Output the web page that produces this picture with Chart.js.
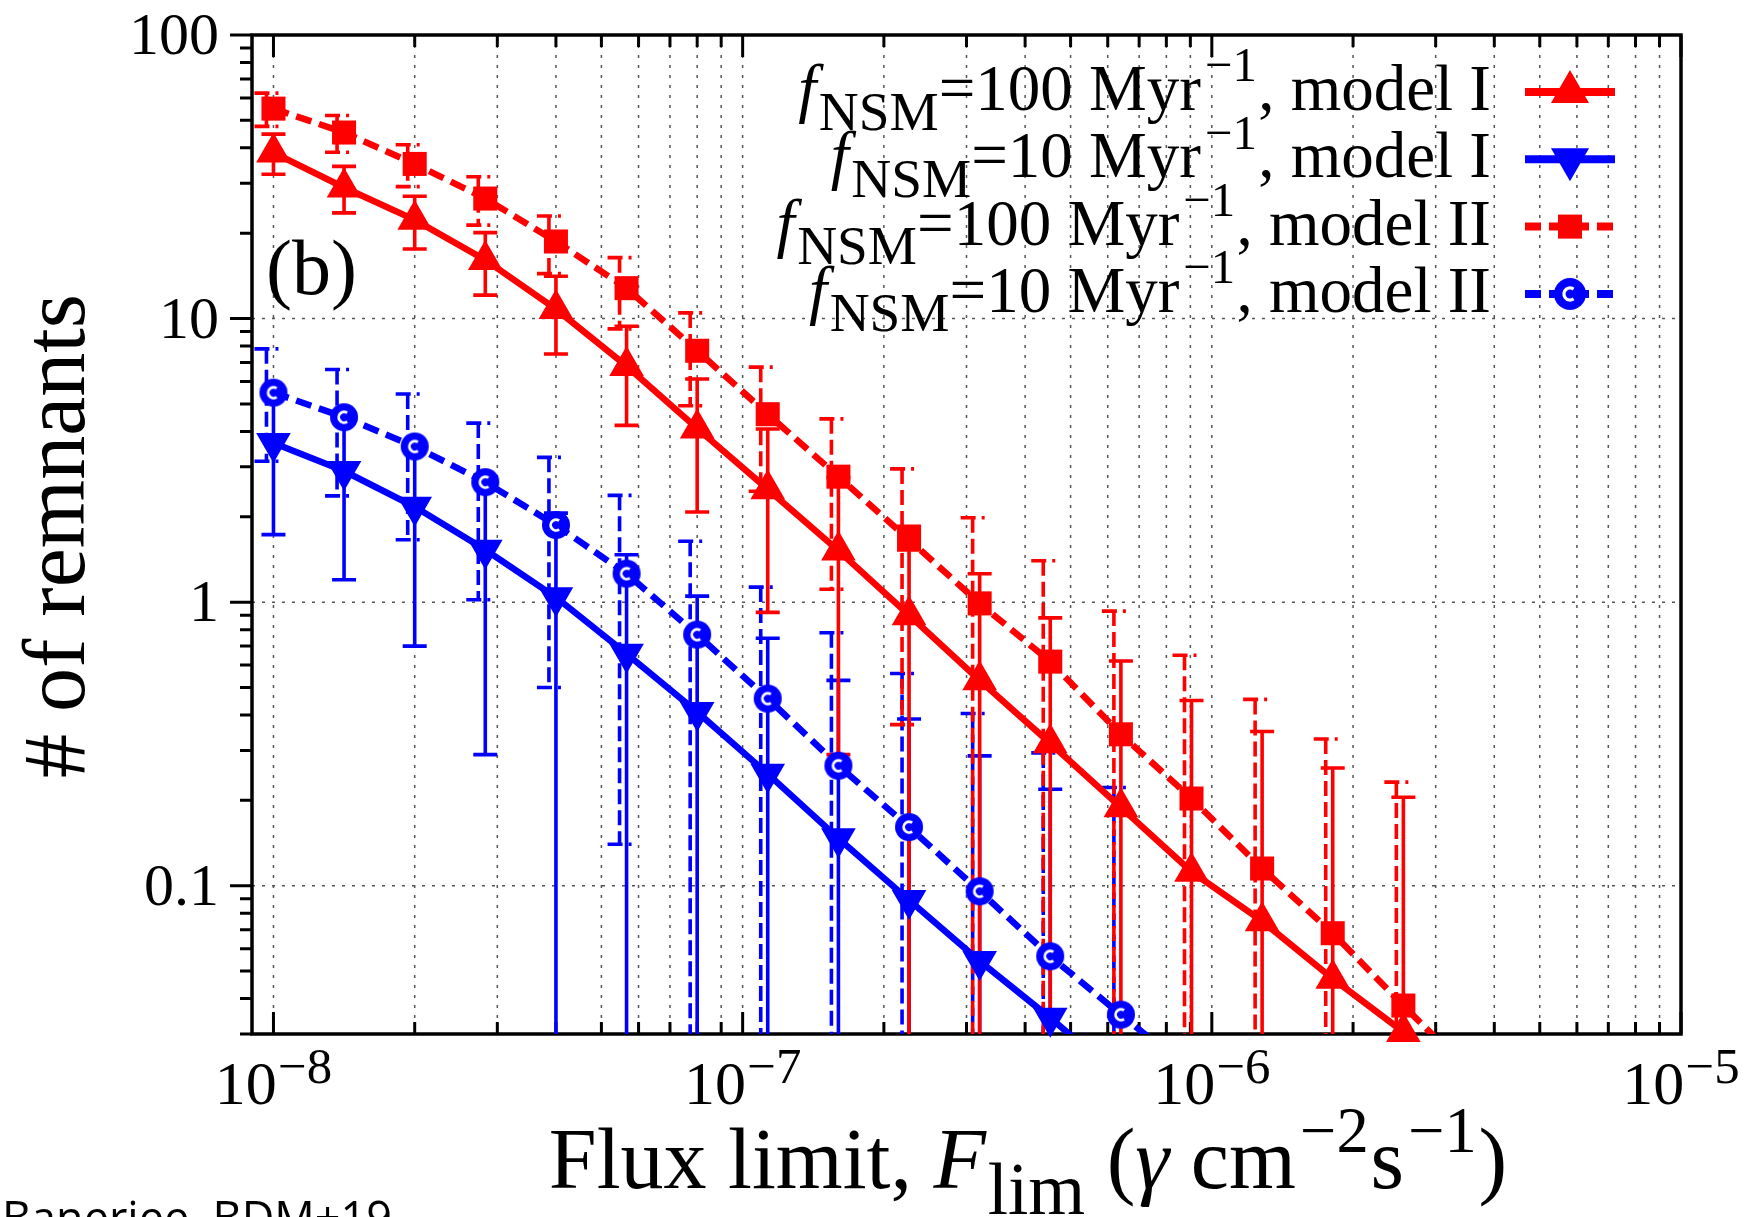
<!DOCTYPE html>
<html>
<head>
<meta charset="utf-8">
<script src="https://cdn.jsdelivr.net/npm/chart.js@4.4.1/dist/chart.umd.min.js"></script>
<style>
  body { margin: 0; background: #fff; }
  canvas { display: block; }
</style>
</head>
<body>
<canvas id="myChart" width="1758" height="1217"></canvas>
<script>
// Flux limits (gamma cm^-2 s^-1), one step = factor sqrt(2)
let fluxLimits = [1e-8, 1.414e-8, 2e-8, 2.828e-8, 4e-8, 5.657e-8, 8e-8, 1.131e-7, 1.6e-7,
  2.263e-7, 3.2e-7, 4.525e-7, 6.4e-7, 9.051e-7, 1.28e-6, 1.81e-6, 2.56e-6, 3.62e-6];

// f_NSM = 100 /Myr, model I (red, triangles)
let red1 = [38.5, 29, 22.3, 16.1, 10.8, 6.8, 4.1, 2.5, 1.52, 0.9, 0.53, 0.318, 0.189, 0.112, 0.075, 0.047, 0.0305];
let red1Lo = [32.3, 23.6, 17.6, 12.1, 7.5, 4.2, 2.08, 0.92, 0.29, 0, 0, 0, 0, 0, 0, 0, 0];
let red1Hi = [44.7, 34.4, 27.0, 20.1, 14.1, 9.4, 6.12, 4.08, 2.75, 1.85, 1.26, 0.88, 0.62, 0.45, 0.35, 0.26, 0.205];

// f_NSM = 10 /Myr, model I (blue, down triangles)
let blue1 = [3.64, 2.9, 2.17, 1.53, 1.04, 0.658, 0.41, 0.248, 0.147, 0.089, 0.0543, 0.0342, 0.021];
let blue1Lo = [1.73, 1.2, 0.70, 0.29, 0, 0, 0, 0, 0, 0, 0, 0, null];
let blue1Hi = [5.55, 4.6, 3.64, 2.77, 2.06, 1.47, 1.05, 0.746, 0.53, 0.387, 0.287, 0.219, null];

// f_NSM = 100 /Myr, model II (red dashed, squares)
let red2 = [55, 45.3, 35.1, 26.5, 18.7, 12.8, 7.7, 4.6, 2.77, 1.66, 0.99, 0.617, 0.342, 0.203, 0.115, 0.068, 0.0378, 0.0213];
let red2Lo = [47.6, 38.6, 29.2, 21.35, 14.4, 9.2, 4.93, 2.46, 1.11, 0.37, 0, 0, 0, 0, 0, 0, 0, null];
let red2Hi = [62.4, 52.0, 41.0, 31.65, 23.0, 16.4, 10.47, 6.74, 4.43, 2.95, 1.985, 1.40, 0.93, 0.65, 0.454, 0.329, 0.232, null];

// f_NSM = 10 /Myr, model II (blue dashed, circles)
let blue2 = [5.48, 4.49, 3.54, 2.65, 1.87, 1.26, 0.768, 0.457, 0.265, 0.161, 0.0956, 0.0564, 0.0351, 0.022];
let blue2Lo = [3.14, 2.37, 1.66, 1.02, 0.5, 0.14, 0, 0, 0, 0, 0, 0, 0, null];
let blue2Hi = [7.82, 6.61, 5.42, 4.28, 3.24, 2.38, 1.64, 1.13, 0.78, 0.56, 0.405, 0.294, 0.222, null];

// axes
let xMin = 9.48e-9, xMax = 1e-5, yMin = 0.03, yMax = 100;
let xDecades = [-8, -7, -6, -5];
let yTickValues = [0.1, 1, 10, 100];
let yTickLabels = ["0.1", "1", "10", "100"];

const RED = "#ff0000", BLUE = "#0000ff";
const SERIF = '"Liberation Serif", "Times New Roman", serif';
const DASH_LINE = [16, 8];
const DASH_BAR = [15, 6];

//circle with a white "c" inside, like the gnuplot marker
function ringDot(r) {
  let c = document.createElement("canvas");
  c.width = c.height = 2 * r + 2;
  let g = c.getContext("2d");
  g.fillStyle = BLUE;
  g.beginPath();
  g.arc(r + 1, r + 1, r, 0, 2 * Math.PI);
  g.fill();
  g.strokeStyle = "#fff";
  g.lineWidth = r * 0.2;
  g.beginPath();
  g.arc(r + 1, r + 1, r * 0.38, 0.3 * Math.PI, 1.7 * Math.PI);
  g.stroke();
  return c;
}
let dotPlot = ringDot(14), dotLegend = ringDot(16);

function points(vals) {
  return vals.map((v, i) => ({ x: fluxLimits[i], y: v }));
}
function lineSet(vals, color, dash) {
  return {
    data: points(vals), borderColor: color, borderWidth: 6.5, borderDash: dash,
    pointRadius: 0, fill: false, tension: 0, clip: 0,
  };
}
function markSet(vals, color, style, r, rot) {
  return {
    data: points(vals), showLine: false, pointStyle: style, pointRadius: r,
    pointRotation: rot, pointBackgroundColor: color, pointBorderWidth: 0,
    pointHoverRadius: r, clip: false,
  };
}

let errorSeries = [
  { vals: blue1, lo: blue1Lo, hi: blue1Hi, color: BLUE, dash: [], shift: 0 },
  { vals: blue2, lo: blue2Lo, hi: blue2Hi, color: BLUE, dash: DASH_BAR, shift: -7 },
  { vals: red1, lo: red1Lo, hi: red1Hi, color: RED, dash: [], shift: 0 },
  { vals: red2, lo: red2Lo, hi: red2Hi, color: RED, dash: DASH_BAR, shift: -7 },
];

//text with sub/superscripts: runs of [text, italic, scale, shift in em, gap before in em]
function drawRuns(ctx, runs, x, y, align, size) {
  let font = (r) => (r[1] ? "italic " : "") + (size * (r[2] || 1)).toFixed(1) + "px " + SERIF;
  let w = 0;
  for (let r of runs) { ctx.font = font(r); w += ctx.measureText(r[0]).width + (r[4] || 0) * size; }
  let cx = align == "right" ? x - w : align == "center" ? x - w / 2 : x;
  ctx.textAlign = "left";
  ctx.textBaseline = "alphabetic";
  for (let r of runs) {
    ctx.font = font(r);
    cx += (r[4] || 0) * size;
    ctx.fillText(r[0], cx, y + (r[3] || 0) * size);
    cx += ctx.measureText(r[0]).width;
  }
}

//grid, frame and ticks, drawn under the data
const frame = {
  id: "frame",
  beforeDatasetsDraw(chart) {
    let { ctx, chartArea: a, scales: { x, y } } = chart;
    let xt = [], yt = [];
    for (let e = -9; e <= -5; e++)
      for (let m = 1; m <= 9; m++) {
        let v = m * Math.pow(10, e);
        if (v >= xMin * 0.999 && v <= xMax * 1.001) xt.push({ v: v, major: m == 1 });
      }
    for (let e = -2; e <= 2; e++)
      for (let m = 1; m <= 9; m++) {
        let v = m * Math.pow(10, e);
        if (v >= yMin * 0.999 && v <= yMax * 1.001) yt.push({ v: v, major: m == 1 });
      }
    ctx.save();
    //dotted grid
    ctx.strokeStyle = "#555";
    ctx.lineWidth = 1.5;
    ctx.setLineDash([3, 7]);
    ctx.beginPath();
    for (let t of xt) {
      let px = x.getPixelForValue(t.v);
      ctx.moveTo(px, a.top);
      ctx.lineTo(px, a.bottom);
    }
    for (let t of yt) {
      if (!t.major) continue;
      let py = y.getPixelForValue(t.v);
      ctx.moveTo(a.left, py);
      ctx.lineTo(a.right, py);
    }
    ctx.stroke();
    //ticks
    ctx.setLineDash([]);
    ctx.strokeStyle = "#000";
    ctx.lineWidth = 3;
    ctx.beginPath();
    for (let t of xt) {
      let px = x.getPixelForValue(t.v), len = t.major ? 22 : 12;
      ctx.moveTo(px, a.bottom);
      ctx.lineTo(px, a.bottom - len);
      ctx.moveTo(px, a.top);
      ctx.lineTo(px, a.top + len);
    }
    for (let t of yt) {
      let py = y.getPixelForValue(t.v), len = t.major ? 22 : 12;
      ctx.moveTo(a.left, py);
      ctx.lineTo(a.left - len, py);
    }
    ctx.stroke();
    ctx.lineWidth = 3.5;
    ctx.strokeRect(a.left, a.top, a.right - a.left, a.bottom - a.top);
    ctx.restore();
  },
};

//Poisson-like error bars
const errorBars = {
  id: "errorBars",
  beforeDatasetsDraw(chart) {
    let { ctx, chartArea: a, scales: { x, y } } = chart;
    ctx.save();
    ctx.beginPath();
    ctx.rect(a.left, a.top, a.right - a.left, a.bottom - a.top);
    ctx.clip();
    ctx.lineWidth = 3.6;
    for (let s of errorSeries) {
      ctx.strokeStyle = s.color;
      ctx.setLineDash(s.dash);
      s.vals.forEach((v, i) => {
        if (v < yMin || s.hi[i] == null) return;
        let px = x.getPixelForValue(fluxLimits[i]) + s.shift;
        let top = y.getPixelForValue(s.hi[i]);
        let hasLo = s.lo[i] > yMin;
        let bot = hasLo ? y.getPixelForValue(s.lo[i]) : a.bottom + 4;
        ctx.beginPath();
        ctx.moveTo(px, top);
        ctx.lineTo(px, bot);
        ctx.moveTo(px - 12, top);
        ctx.lineTo(px + 12, top);
        if (hasLo) {
          ctx.moveTo(px - 12, bot);
          ctx.lineTo(px + 12, bot);
        }
        ctx.stroke();
      });
    }
    ctx.restore();
  },
};

//tick labels, axis titles, legend
const labelsPlugin = {
  id: "labelsPlugin",
  afterDraw(chart) {
    let { ctx, chartArea: a, scales: { x, y } } = chart;
    ctx.save();
    ctx.fillStyle = "#000";
    for (let e of xDecades) {
      let px = x.getPixelForValue(Math.pow(10, e));
      drawRuns(ctx, [["10", false, 1, 0], ["\u2212" + (-e), false, 0.82, -0.34, 0.02]], px, 1104, "center", 62);
    }
    ctx.font = "60px " + SERIF;
    ctx.textAlign = "right";
    ctx.textBaseline = "alphabetic";
    yTickValues.forEach((v, i) => {
      ctx.fillText(yTickLabels[i], 219, y.getPixelForValue(v) + 19);
    });
    //x title
    drawRuns(ctx, [
      ["Flux limit, ", false, 1, 0], ["F", true, 1, 0], ["lim", false, 0.85, 0.3, 0.02],
      [" (", false, 1, 0], ["\u03b3", true, 1, 0], [" cm", false, 1, 0],
      ["\u22122", false, 0.75, -0.42, 0.05], ["s", false, 1, 0, 0.02], ["\u22121", false, 0.75, -0.42, 0.05],
      [")", false, 1, 0, 0.02],
    ], 1028, 1188, "center", 86);
    //y title
    ctx.save();
    ctx.translate(84, 536);
    ctx.rotate(-Math.PI / 2);
    ctx.font = "88px " + SERIF;
    ctx.textAlign = "center";
    ctx.fillText("# of remnants", 0, 0);
    ctx.restore();
    //panel tag
    ctx.font = "78px " + SERIF;
    ctx.textAlign = "left";
    ctx.fillText("(b)", 266, 294);
    //legend
    let rows = [
      { rate: "100", model: "I", color: RED, dash: [], style: "triangle", r: 22, rot: 0 },
      { rate: "10", model: "I", color: BLUE, dash: [], style: "triangle", r: 22, rot: 180 },
      { rate: "100", model: "II", color: RED, dash: DASH_LINE, style: "rect", r: 17, rot: 0 },
      { rate: "10", model: "II", color: BLUE, dash: DASH_LINE, style: dotLegend, r: 16, rot: 0 },
    ];
    rows.forEach((row, i) => {
      let ly = 92 + i * 67.3;
      ctx.fillStyle = "#000";
      drawRuns(ctx, [
        ["f", true, 1, 0], ["NSM", false, 0.85, 0.3, 0.04], ["=" + row.rate + " Myr", false, 1, 0],
        ["\u22121", false, 0.75, -0.44, 0.06], [", model " + row.model, false, 1, 0, 0.02],
      ], 1491, ly + 18, "right", 65);
      ctx.strokeStyle = row.color;
      ctx.lineWidth = 8;
      ctx.setLineDash(row.dash);
      ctx.beginPath();
      ctx.moveTo(1525, ly);
      ctx.lineTo(1615, ly);
      ctx.stroke();
      ctx.setLineDash([]);
      ctx.fillStyle = row.color;
      Chart.helpers.drawPoint(ctx, { pointStyle: row.style, radius: row.r, rotation: row.rot, borderWidth: 0 }, 1570, ly);
    });
    //source note, cut by the page edge
    ctx.fillStyle = "#000";
    ctx.font = '45px "Open Sans", sans-serif';
    ctx.textAlign = "left";
    ctx.fillText("Banerjee, BDM+19", 2, 1234);
    ctx.restore();
  },
};

let ctx = document.getElementById("myChart").getContext("2d");
let myChart = new Chart(ctx, {
  type: "line",
  data: {
    datasets: [
      markSet(red1, RED, "triangle", 20, 0),
      markSet(red2, RED, "rect", 17, 0),
      markSet(blue1, BLUE, "triangle", 20, 180),
      markSet(blue2, BLUE, dotPlot, 14, 0),
      lineSet(red1, RED, []),
      lineSet(red2, RED, DASH_LINE),
      lineSet(blue1, BLUE, []),
      lineSet(blue2, BLUE, DASH_LINE),
    ],
  },
  options: {
    responsive: false,
    animation: false,
    devicePixelRatio: 1,
    layout: { padding: { left: 0, top: 35, right: 77, bottom: 0 } },
    plugins: { legend: { display: false }, tooltip: { enabled: false } },
    events: [],
    scales: {
      x: {
        type: "logarithmic", position: "bottom", min: xMin, max: xMax,
        ticks: { display: false }, grid: { display: false }, border: { display: false },
        afterFit: (scale) => { scale.height = 183; },
      },
      y: {
        type: "logarithmic", position: "left", min: yMin, max: yMax,
        ticks: { display: false }, grid: { display: false }, border: { display: false },
        afterFit: (scale) => { scale.width = 252; },
      },
    },
  },
  plugins: [frame, errorBars, labelsPlugin],
});
</script>
</body>
</html>
